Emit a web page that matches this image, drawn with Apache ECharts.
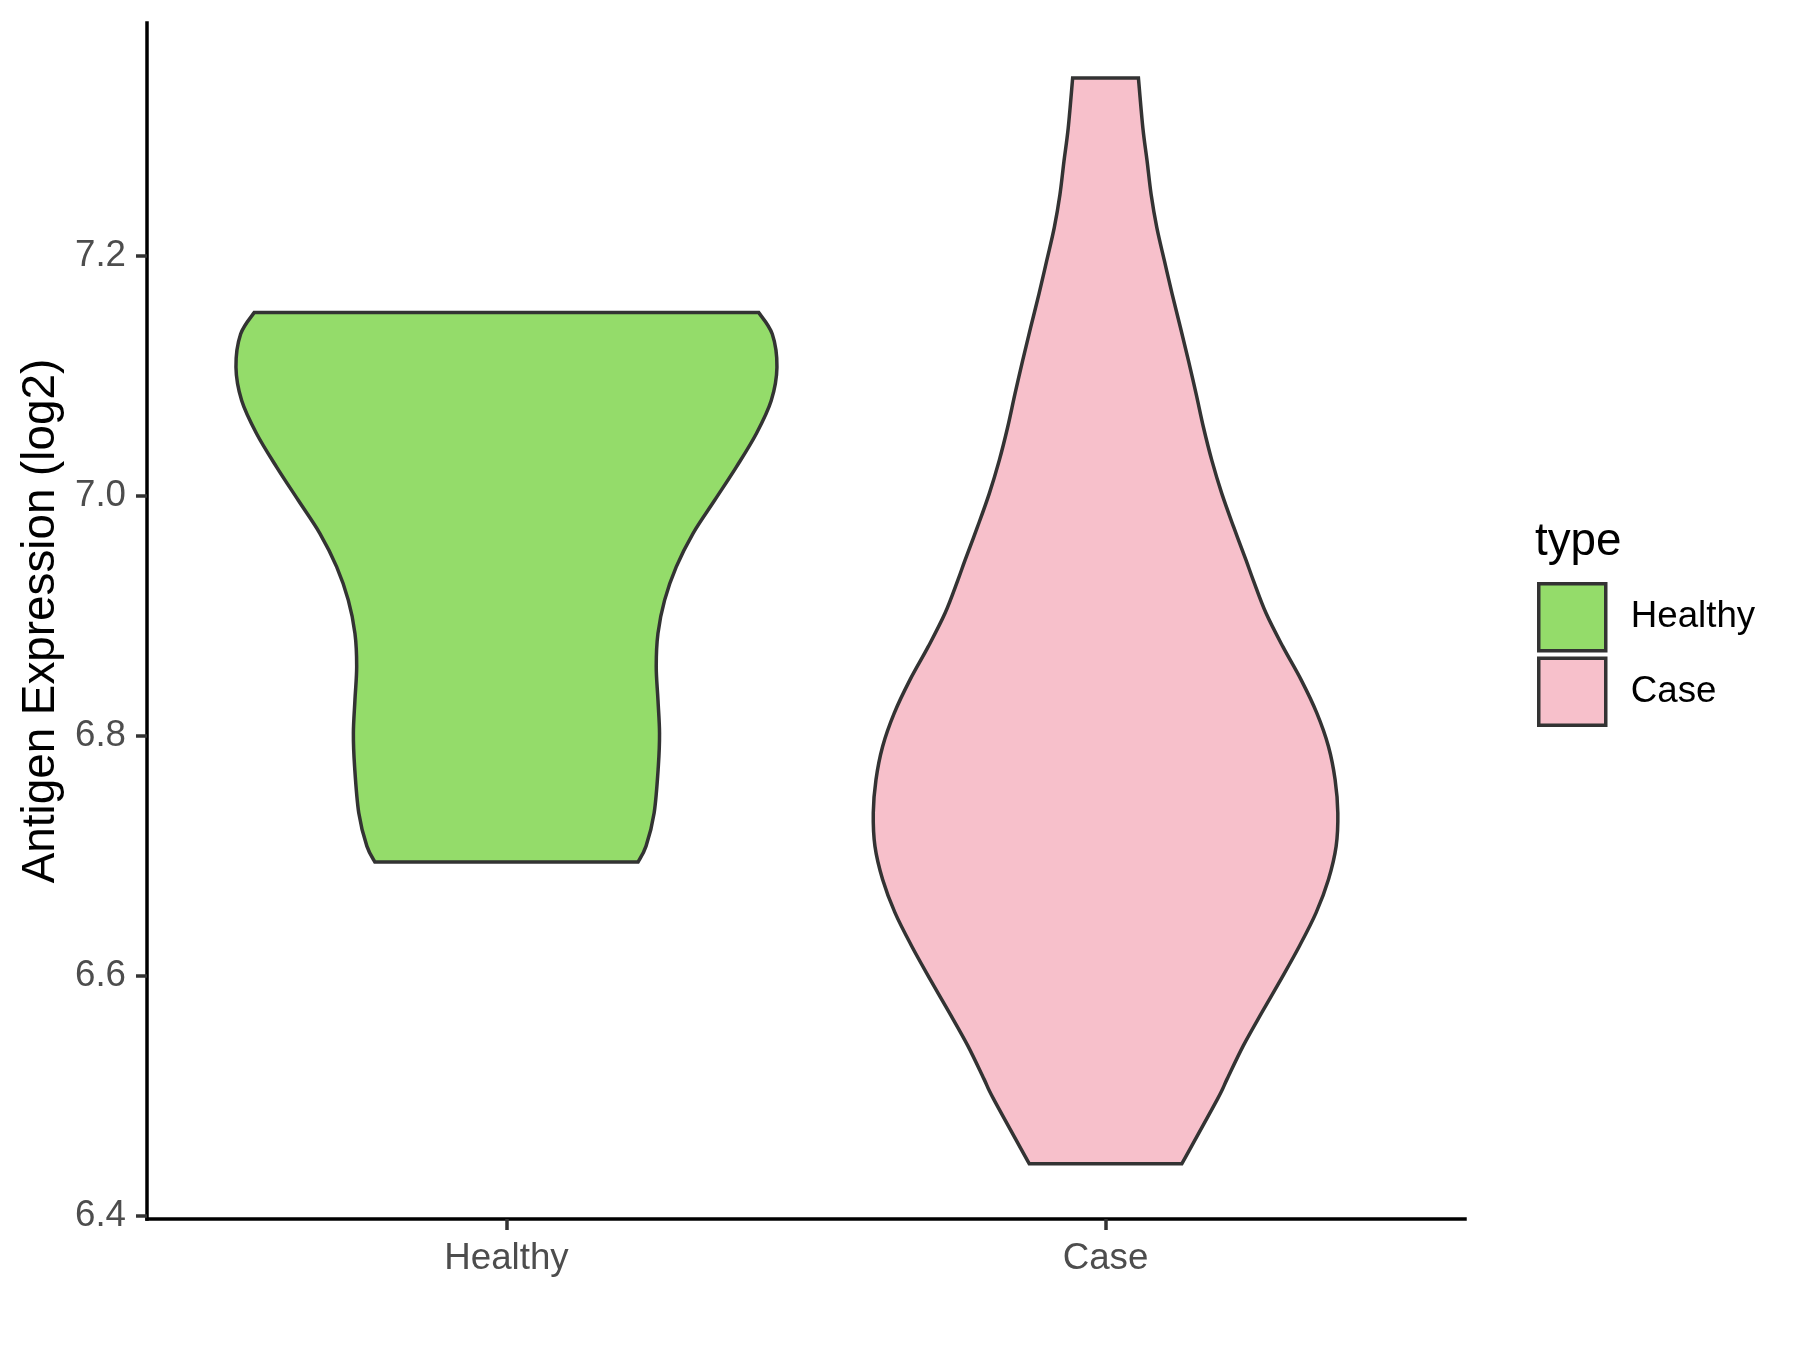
<!DOCTYPE html>
<html>
<head>
<meta charset="utf-8">
<script src="https://cdn.jsdelivr.net/npm/echarts@6/dist/echarts.min.js"></script>
<style>
html,body{margin:0;padding:0;background:#fff;}
#chart{width:1800px;height:1350px;}
</style>
</head>
<body>
<div id="chart"></div>
<script>
// ---- data ----
const categories = ['Healthy', 'Case'];
const yTickValues = [6.4, 6.6, 6.8, 7.0, 7.2];
// violin outlines: y value and half-width (in category-axis units)
const healthyValues = [7.1527, 7.1347, 7.107, 7.0793, 7.0516, 7.0238, 6.9961, 6.9684, 6.9406, 6.9129, 6.8852, 6.8575, 6.8297, 6.8021, 6.7743, 6.7355, 6.7078, 6.6945];
const healthyHalfWidths = [0.421, 0.4437, 0.4515, 0.442, 0.417, 0.3836, 0.3475, 0.3113, 0.2834, 0.264, 0.2529, 0.25, 0.2529, 0.2555, 0.2535, 0.2465, 0.233, 0.2195];
const caseValues = [7.3481, 7.3065, 7.2788, 7.2511, 7.2234, 7.1957, 7.168, 7.1402, 7.1125, 7.0848, 7.057, 7.0294, 7.0017, 6.9739, 6.9462, 6.9296, 6.9019, 6.8741, 6.8464, 6.8187, 6.7909, 6.7632, 6.7356, 6.7078, 6.6801, 6.6524, 6.6246, 6.597, 6.5692, 6.5415, 6.5138, 6.4971, 6.4431];
const caseHalfWidths = [0.0549, 0.0623, 0.0694, 0.0761, 0.0856, 0.0983, 0.1112, 0.125, 0.1384, 0.1512, 0.1634, 0.1774, 0.1941, 0.2138, 0.2345, 0.2465, 0.268, 0.296, 0.3265, 0.3527, 0.3721, 0.3832, 0.3877, 0.3849, 0.3721, 0.3515, 0.3237, 0.293, 0.261, 0.230, 0.203, 0.187, 0.1274];

const fillColors = {Healthy: '#94DC6A', Case: '#F7C0CB'};
const FONT = '"Liberation Sans", Arial, Helvetica, sans-serif';

function catmull(pts) {
  let d = '';
  for (let i = 0; i < pts.length - 1; i++) {
    const p0 = pts[Math.max(i - 1, 0)], p1 = pts[i], p2 = pts[i + 1], p3 = pts[Math.min(i + 2, pts.length - 1)];
    const c1 = [p1[0] + (p2[0] - p0[0]) / 6, p1[1] + (p2[1] - p0[1]) / 6];
    const c2 = [p2[0] - (p3[0] - p1[0]) / 6, p2[1] - (p3[1] - p1[1]) / 6];
    d += ' C' + c1[0] + ',' + c1[1] + ' ' + c2[0] + ',' + c2[1] + ' ' + p2[0] + ',' + p2[1];
  }
  return d;
}

function makeViolin(name, center, vals, halves) {
  return {
    name: name,
    type: 'custom',
    itemStyle: {color: fillColors[name], borderColor: '#333333', borderWidth: 3.5},
    data: vals.map((v, i) => [center, v, halves[i]]),
    renderItem: function (params, api) {
      if (params.dataIndex !== 0) return null;
      const right = vals.map((v, i) => api.coord([center + halves[i], v]));
      const left = vals.map((v, i) => api.coord([center - halves[i], v])).reverse();
      const d = 'M' + right[0][0] + ',' + right[0][1] + catmull(right) +
                ' L' + left[0][0] + ',' + left[0][1] + catmull(left) + ' Z';
      return {
        type: 'path',
        shape: {pathData: d},
        style: {fill: fillColors[name], stroke: '#333333', lineWidth: 3.5, lineJoin: 'miter'}
      };
    }
  };
}

const chart = echarts.init(document.getElementById('chart'), null, {renderer: 'canvas'});
chart.setOption({
  animation: false,
  backgroundColor: '#ffffff',
  grid: {left: 147, right: 335, top: 23, bottom: 131, containLabel: false},
  title: {
    text: 'type', left: 1530, top: 514,
    textStyle: {fontFamily: FONT, fontSize: 45.8, fontWeight: 'normal', color: '#000'}
  },
  legend: {
    orient: 'vertical', left: 1532, top: 577,
    itemWidth: 67, itemHeight: 67, itemGap: 4, icon: 'rect',
    data: categories.map(c => ({name: c, itemStyle: {color: fillColors[c], borderColor: '#333333', borderWidth: 3.5}})),
    textStyle: {fontFamily: FONT, fontSize: 36.7, color: '#000', padding: [0, 0, 0, 20]}
  },
  xAxis: {
    type: 'value', min: 0.4, max: 2.6,
    splitLine: {show: false},
    axisLine: {show: true, onZero: false, lineStyle: {color: '#000', width: 3.5, cap: 'square'}},
    axisTick: {show: true, length: 11, customValues: [1, 2], lineStyle: {color: '#333333', width: 3.5}},
    axisLabel: {
      customValues: [1, 2], margin: 21,
      formatter: v => categories[Math.round(v) - 1],
      fontFamily: FONT, fontSize: 36.7, color: '#4D4D4D'
    }
  },
  yAxis: {
    type: 'value', min: 6.397, max: 7.394,
    name: 'Antigen Expression (log2)', nameLocation: 'middle', nameGap: 68,
    nameTextStyle: {fontFamily: FONT, fontSize: 45.8, color: '#000'},
    splitLine: {show: false},
    axisLine: {show: true, onZero: false, lineStyle: {color: '#000', width: 3.5, cap: 'square'}},
    axisTick: {show: true, length: 11, customValues: yTickValues, lineStyle: {color: '#333333', width: 3.5}},
    axisLabel: {
      customValues: yTickValues, margin: 21,
      formatter: v => v.toFixed(1),
      fontFamily: FONT, fontSize: 36.7, color: '#4D4D4D'
    }
  },
  series: [
    makeViolin('Healthy', 1, healthyValues, healthyHalfWidths),
    makeViolin('Case', 2, caseValues, caseHalfWidths)
  ]
});
</script>
</body>
</html>
